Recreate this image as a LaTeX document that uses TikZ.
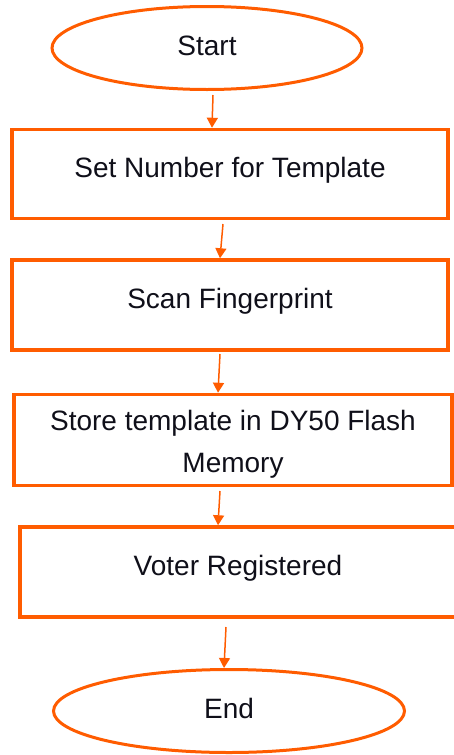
\documentclass[tikz,border=0pt]{standalone}
\usepackage{fontspec}
\setmainfont{Liberation Sans}
\usetikzlibrary{shapes.geometric,arrows.meta}
\definecolor{flow}{RGB}{255,92,0}
\definecolor{ink}{RGB}{15,15,25}
\tikzset{
  startend/.style={ellipse, draw=flow, line width=3pt, text=ink, font=\fontsize{28}{42}\selectfont, inner sep=0pt, text height=20pt, text depth=6pt},
  stepbox/.style={rectangle, draw=flow, line width=3.5pt, text=ink, font=\fontsize{28}{42}\selectfont, minimum width=436pt, inner sep=0pt, align=center},
  onelinebox/.style={stepbox, text height=20pt, text depth=12.5pt},
  flowarrow/.style={draw=flow, line width=1.5pt, -{Triangle[width=11pt,length=10pt]}}
}
\begin{document}
\begin{tikzpicture}[x=1pt,y=-1pt]
\useasboundingbox (0,0) rectangle (454,755);
\node[startend, minimum width=310pt, minimum height=83pt] (start) at (207,48) {Start};
\node[onelinebox, minimum height=89pt] (b1) at (230,174) {Set Number for Template};
\node[onelinebox, minimum height=90pt] (b2) at (230,305) {Scan Fingerprint};
\node[stepbox, minimum width=438pt, minimum height=91pt] (b3) at (233,440) {\rule{0pt}{29pt}Store template in DY50 Flash\\Memory};
\node[onelinebox, minimum height=90pt] (b4) at (238,572) {Voter Registered};
\node[startend, minimum width=351pt, minimum height=83pt] (end) at (229,711) {End};
\coordinate (a1) at (213,95);
\coordinate (a2) at (223,224);
\coordinate (a3) at (220,354);
\coordinate (a4) at (220,491);
\coordinate (a5) at (226,627);
\draw[flowarrow] (a1) -- ([xshift=-18pt]b1.north);
\draw[flowarrow] (a2) -- ([xshift=-10pt]b2.north);
\draw[flowarrow] (a3) -- ([xshift=-15pt]b3.north);
\draw[flowarrow] (a4) -- ([xshift=-20pt]b4.north);
\draw[flowarrow] (a5) -- ([xshift=-5pt]end.north);
\end{tikzpicture}
\end{document}
